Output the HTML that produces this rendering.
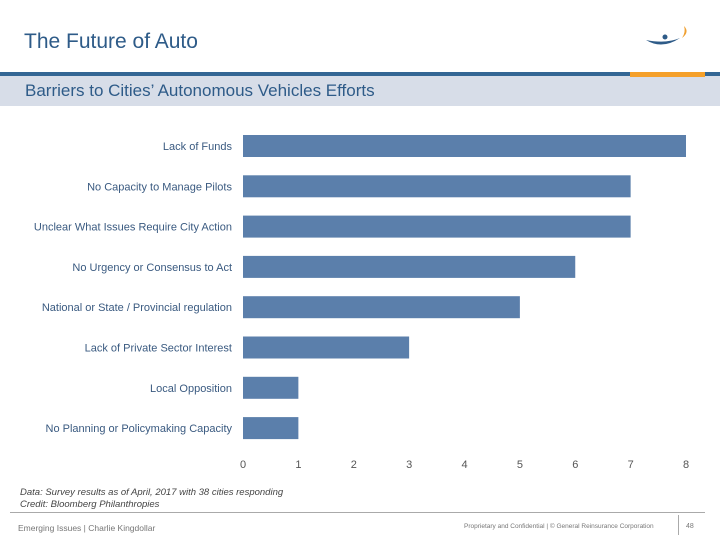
<!DOCTYPE html>
<html><head><meta charset="utf-8"><style>
body{margin:0;width:720px;height:540px;background:#fff;font-family:"Liberation Sans",sans-serif;position:relative;overflow:hidden}
.a{position:absolute}
</style></head><body>
<div class="a" style="left:24px;top:30px;font-size:21px;color:#2e5b88">The Future of Auto</div>
<svg class="a" style="left:640px;top:22px" width="50" height="30"><path d="M6 18 Q22 28 40 16 Q26 22 6 18Z" fill="#2e5b88"/><circle cx="25" cy="15" r="2.5" fill="#2e5b88"/><path d="M44 4 Q50 10 42 16 Q46 10 44 4Z" fill="#f0a030"/></svg>
<div class="a" style="left:0;top:72px;width:720px;height:4px;background:#336694"></div>
<div class="a" style="left:0;top:76px;width:720px;height:30px;background:#d7dde8"></div>
<div class="a" style="left:630px;top:72px;width:75px;height:5px;background:#f5a02a"></div>
<div class="a" style="left:25px;top:81px;font-size:17px;color:#2e5b88">Barriers to Cities’ Autonomous Vehicles Efforts</div>
<svg class="a" id="chart" style="left:0;top:0" width="720" height="480"></svg>
<div class="a" style="left:20px;top:487px;font-size:9.5px;font-style:italic;color:#444;line-height:12px">Data: Survey results as of April, 2017 with 38 cities responding<br>Credit: Bloomberg Philanthropies</div>
<div class="a" style="left:10px;top:512px;width:695px;height:1px;background:#aaa"></div>
<div class="a" style="left:18px;top:523px;font-size:8.5px;color:#777">Emerging Issues | Charlie Kingdollar</div>
<div class="a" style="left:464px;top:523px;font-size:6.5px;color:#777">Proprietary and Confidential | © General Reinsurance Corporation</div>
<div class="a" style="left:678px;top:515px;width:1px;height:20px;background:#aaa"></div>
<div class="a" style="left:686px;top:523px;font-size:7px;color:#777">48</div>
<script>
const categories=["Lack of Funds","No Capacity to Manage Pilots","Unclear What Issues Require City Action","No Urgency or Consensus to Act","National or State / Provincial regulation","Lack of Private Sector Interest","Local Opposition","No Planning or Policymaking Capacity"];
const values=[8,7,7,6,5,3,1,1];
const ticks=[0,1,2,3,4,5,6,7,8];
const svg=document.getElementById('chart');const NS='http://www.w3.org/2000/svg';
const x=v=>243+v*(686-243)/8;
const y=i=>146+i*40.3;
categories.forEach((c,i)=>{
 const r=document.createElementNS(NS,'rect');
 r.setAttribute('x',x(0));r.setAttribute('y',y(i)-11);r.setAttribute('width',x(values[i])-x(0));r.setAttribute('height',22);r.setAttribute('fill','#5b7fab');
 
 
 svg.appendChild(r);
 const t=document.createElementNS(NS,'text');
 t.setAttribute('x',232);t.setAttribute('y',y(i)+4);t.setAttribute('text-anchor','end');t.setAttribute('font-size','11');t.setAttribute('fill','#3a5a80');t.textContent=c;
 
 
 svg.appendChild(t);
});
ticks.forEach(v=>{
 const t=document.createElementNS(NS,'text');
 t.setAttribute('x',x(v));t.setAttribute('y',468);t.setAttribute('text-anchor','middle');t.setAttribute('font-size','11');t.setAttribute('fill','#555');t.textContent=v;
 
 
 svg.appendChild(t);
});
</script>
</body></html>
